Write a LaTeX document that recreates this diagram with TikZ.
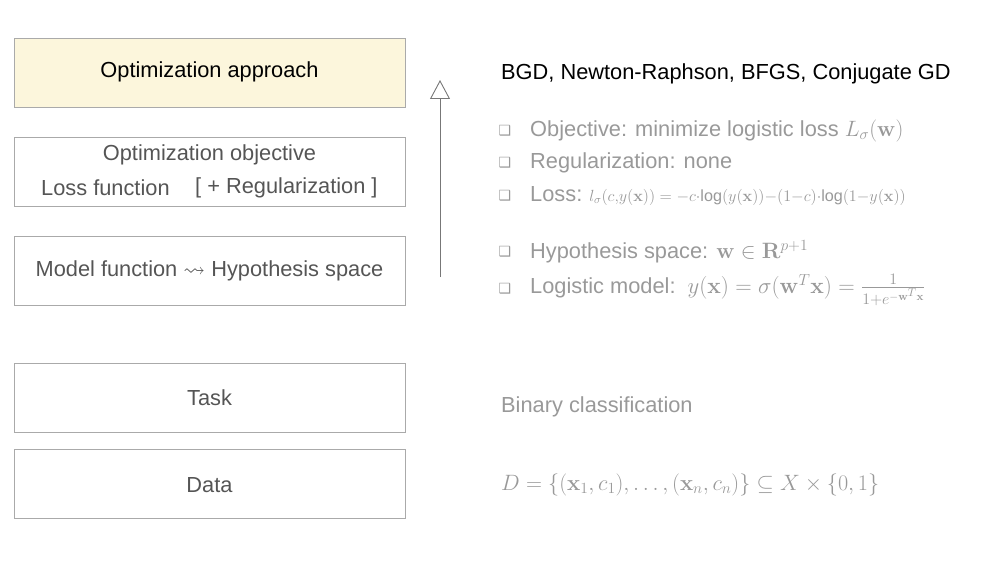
\RequirePackage{fix-cm}
\documentclass[tikz,border=0pt]{standalone}
\usepackage{amsmath,amssymb}
\usepackage[no-math]{fontspec}
\setmainfont{Liberation Sans}
\newfontfamily\dejavu{DejaVu Sans}
\usetikzlibrary{arrows.meta}
\definecolor{boxline}{HTML}{AAAAAA}
\definecolor{boxtext}{HTML}{555555}
\definecolor{lighttext}{HTML}{999999}
\definecolor{yellowfill}{HTML}{FCF6DC}
\definecolor{arrowgray}{HTML}{777777}
\newcommand{\mathsz}{\fontsize{22.2}{26}\selectfont}
\tikzset{
  layerbox/.style={draw=boxline, line width=0.8pt, minimum width=391pt, minimum height=69pt, inner sep=0pt, anchor=north west, text=boxtext},
  boxlabel/.style={inner sep=0pt, text=boxtext, font=\fontsize{21.8}{26}\selectfont},
  rtext/.style={inner sep=0pt, anchor=west, text=lighttext, font=\fontsize{21.8}{26}\selectfont},
  bullet/.style={inner sep=0pt, anchor=center, text=lighttext, font=\dejavu\fontsize{14}{15}\selectfont}
}
\begin{document}
\begin{tikzpicture}[x=1pt,y=-1pt]
\useasboundingbox (0,0) rectangle (987,575);
% boxes
\node[layerbox, fill=yellowfill] (opt) at (14,38) {};
\node[layerbox] (obj) at (14,137) {};
\node[layerbox] (model) at (14,236) {};
\node[layerbox] (task) at (14,363) {};
\node[layerbox] (data) at (14,449) {};
% box labels
\node[boxlabel, text=black] (optl) at (209.5,72) {Optimization approach};
\node[boxlabel] (objl1) at (209.5,155) {Optimization objective};
\node[boxlabel, anchor=west] (objl2) at (41,188) {Loss function};
\node[boxlabel, anchor=west] (objl3) at (195,188) {[ + Regularization ]};
\node[boxlabel] (modell) at (209.5,271) {Model function $\leadsto$ Hypothesis space};
\node[boxlabel] (taskl) at (209.5,398) {Task};
\node[boxlabel] (datal) at (209.5,485) {Data};
% arrow
\coordinate (abot) at (440,277);
\coordinate (atop) at (440,80);
\draw[arrowgray, line width=0.9pt, -{Triangle[open, length=19pt, width=20pt]}] (abot) -- (atop);
% right texts
\node[rtext, text=black] (bgd) at (501,74) {BGD, Newton-Raphson, BFGS, Conjugate GD};
\node[bullet] (b1) at (505,131) {❑};
\node[rtext] (t1) at (530,131) {Objective: minimize logistic loss {\mathsz$L_\sigma(\mathbf{w})$}};
\node[bullet] (b2) at (505,163) {❑};
\node[rtext] (t2) at (530,163) {Regularization: none};
\node[bullet] (b3) at (505,196) {❑};
\node[rtext] (t3) at (530,196) {Loss:\hspace{7pt}{\fontsize{23.1}{26}\selectfont$\scriptstyle l_\sigma(c,y(\mathbf{x}))\;=\;-c\cdot\text{log}(y(\mathbf{x}))-(1-c)\cdot\text{log}(1-y(\mathbf{x}))$}};
\node[bullet] (b4) at (505,252) {❑};
\node[rtext] (t4) at (530,252) {Hypothesis space: {\mathsz$\mathbf{w}\in\mathbf{R}^{p+1}$}};
\node[bullet] (b5) at (505,289) {❑};
\node[rtext] (t5) at (530,290) {Logistic model:\hspace{12pt}{\fontsize{22.8}{26}\selectfont$y(\mathbf{x})=\sigma(\mathbf{w}^T\mathbf{x})=\frac{1}{1+e^{-\mathbf{w}^T\mathbf{x}}}$}};
\node[rtext] (task r) at (501,407) {Binary classification};
\node[rtext] (data r) at (501,485) {\mathsz$D=\{(\mathbf{x}_1,c_1),\ldots,(\mathbf{x}_n,c_n)\}\subseteq X\times\{0,1\}$};
\end{tikzpicture}
\end{document}
